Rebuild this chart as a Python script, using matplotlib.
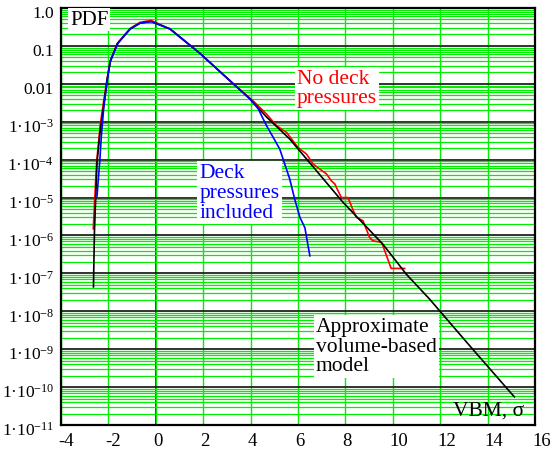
import matplotlib
matplotlib.use("Agg")
import matplotlib.pyplot as plt
import matplotlib.ticker as mticker
import matplotlib.transforms as mtrans
import numpy as np

SERIF = ["Liberation Serif", "DejaVu Serif"]
plt.rcParams["font.family"] = SERIF
plt.rcParams["mathtext.fontset"] = "custom"
plt.rcParams["mathtext.rm"] = "Liberation Serif"
plt.rcParams["mathtext.it"] = "Liberation Serif:italic"

# approximate volume-based model (black)
x_model = [-2.63, -2.59, -2.48, -2.35, -2.2, -2.05, -1.92, -1.63, -1.08, -0.66,
           -0.2, 0.6, 1.87, 3.27, 3.97, 4.68, 5.65, 7.89, 9.58, 10.57,
           11.55, 11.98, 13.37, 15.13]
pdf_model = [4.4e-8, 1.2e-6, 8.7e-5, 5.4e-4, 2.6e-3, 1.35e-2, 3.8e-2, 0.112, 0.28, 0.40,
             0.44, 0.28, 0.063, 0.01, 4.0e-3, 1.32e-3, 3.5e-4, 7.6e-6, 5.9e-7, 9.5e-8,
             2.1e-8, 1.02e-8, 1.0e-9, 5.5e-11]

# no deck pressures (red)
x_nodeck = [-2.64, -2.5, -2.35, -2.2, -2.05, -1.92, -1.63, -1.08, -0.66, -0.2,
            0.6, 1.87, 3.27, 3.97, 4.18, 4.67, 5.09, 5.52, 6.0, 6.36,
            6.64, 7.2, 7.41, 7.55, 7.69, 7.83, 8.11, 8.25, 8.46, 8.74,
            9.02, 9.16, 9.51, 9.58, 9.93, 10.5]
pdf_nodeck = [1.5e-6, 7.9e-5, 7.9e-4, 3.5e-3, 1.4e-2, 4.0e-2, 0.115, 0.29, 0.42, 0.47,
              0.28, 0.063, 0.01, 4.2e-3, 3.2e-3, 1.6e-3, 7.9e-4, 5.2e-4, 2.1e-4, 1.4e-4,
              7.6e-5, 4.2e-5, 2.75e-5, 2.3e-5, 1.5e-5, 1.0e-5, 1.0e-5, 6.0e-6, 3.0e-6, 2.45e-6,
              8.9e-7, 7.2e-7, 6.6e-7, 5.4e-7, 1.35e-7, 1.35e-7]

# deck pressures included (blue)
x_deck = [-2.48, -2.36, -2.3, -2.2, -2.06, -1.92, -1.57, -1.08, -0.66, -0.2,
          0.6, 1.87, 3.27, 3.97, 4.32, 4.67, 4.95, 5.23, 5.65, 5.86,
          6.08, 6.29, 6.5]
pdf_deck = [1.1e-5, 1.0e-4, 4.0e-4, 2.2e-3, 1.1e-2, 4.1e-2, 0.126, 0.28, 0.40, 0.44,
            0.28, 0.063, 0.01, 4.0e-3, 2.2e-3, 7.9e-4, 3.9e-4, 1.9e-4, 3.1e-5, 9.1e-6,
            3.0e-6, 1.6e-6, 2.9e-7]

x_ticks = list(range(-4, 17, 2))
y_ticks = [10.0 ** k for k in range(0, -12, -1)]
y_labels = ["1.0", "0.1", "0.01"] + ["1·10$^{%d}$" % k for k in range(-3, -12, -1)]

fig = plt.figure(figsize=(5.51, 4.52), dpi=100)
ax = fig.add_axes([61 / 551, 1 - 426 / 452, 474 / 551, 417 / 452])

ax.set_yscale("log")
ax.set_xlim(-4, 16)
ax.set_ylim(1e-11, 1.0)

# grid: green minor, black decades, green verticals with black zero line
ax.yaxis.set_minor_locator(mticker.LogLocator(base=10, subs=np.arange(2, 10), numticks=100))
ax.yaxis.set_minor_formatter(mticker.NullFormatter())
ax.set_yticks(y_ticks)
ax.set_yticklabels(y_labels)
ax.set_xticks(x_ticks)
ax.set_xticklabels([str(t) for t in x_ticks])
ax.grid(which="minor", axis="y", color="#00ee00", lw=0.9)
ax.grid(which="major", axis="y", color="#222222", lw=1.3)
ax.grid(which="major", axis="x", color="#00ee00", lw=1.0)
ax.axvline(0, color="black", lw=1.1, zorder=0.5)
ax.set_axisbelow(True)

ax.tick_params(which="both", length=0)
ax.tick_params(axis="x", pad=5, labelsize=13.5)
ax.tick_params(axis="y", pad=5, labelsize=12.5)
for lab in ax.get_xticklabels():
    lab.set_horizontalalignment("left")
    lab.set_family(SERIF)
    lab.set_transform(lab.get_transform() + mtrans.ScaledTranslation(-3 / 100, 0, fig.dpi_scale_trans))
for lab in ax.get_yticklabels():
    lab.set_family(SERIF)
    lab.set_transform(lab.get_transform() + mtrans.ScaledTranslation(0, -3 / 100, fig.dpi_scale_trans))

for side in ["top", "bottom", "left", "right"]:
    ax.spines[side].set_color("black")
    ax.spines[side].set_linewidth(1.6)

ax.plot(x_nodeck, pdf_nodeck, color="#ff0000", lw=1.2)
ax.plot(x_model, pdf_model, color="black", lw=1.2)
ax.plot(x_deck, pdf_deck, color="#0000ff", lw=1.2)

box = dict(facecolor="white", edgecolor="none", pad=1.5)
ax.text(-3.62, 10 ** -0.3, "PDF", fontsize=15, family=SERIF, va="center", ha="left", bbox=box)
ax.text(5.95, 10 ** -1.6, "No deck\npressures", color="#ff0000", fontsize=15.5, family=SERIF,
        va="top", ha="left", linespacing=1.05, bbox=box)
ax.text(1.85, 10 ** -4.1, "Deck\npressures\nincluded", color="#0000ff", fontsize=15.5, family=SERIF,
        va="top", ha="left", linespacing=1.05, bbox=box)
ax.text(6.75, 10 ** -8.15, "Approximate\nvolume-based\nmodel", color="black", fontsize=15.5,
        family=SERIF, va="top", ha="left", linespacing=1.05, bbox=box)
ax.text(12.55, 10 ** -10.6, "VBM, σ", fontsize=15.5, family=SERIF, va="center", ha="left")

fig.savefig("out.png", dpi=100)
